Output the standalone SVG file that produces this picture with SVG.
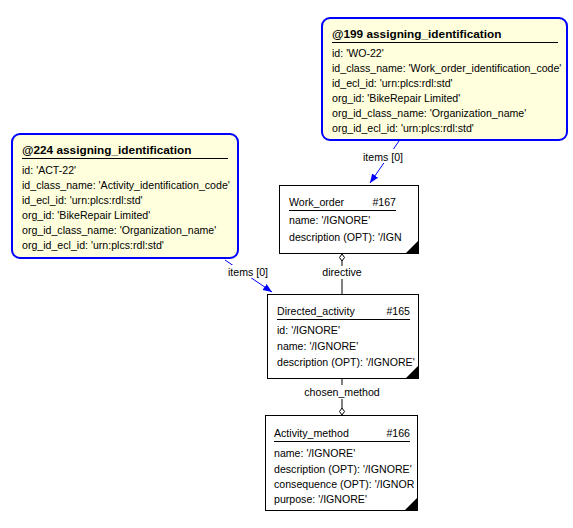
<svg xmlns="http://www.w3.org/2000/svg" width="573" height="528" viewBox="0 0 573 528">
<style>
text{font-family:"Liberation Sans",Arial,sans-serif;font-size:10.6px;fill:#000}
.t{font-weight:bold;font-size:11.8px}
.ai{fill:#ffffdd;stroke:#0000ff;stroke-width:2}
.en{fill:#fff;stroke:#000;stroke-width:1}
.ul{stroke:#000;stroke-width:1}
.bl{stroke:#0000ff;stroke-width:1;fill:none}
.ln{stroke:#000;stroke-width:1;fill:none}
.lbl{text-anchor:middle}
</style>
<defs>
<marker id="arr" viewBox="0 0 10 10" refX="10" refY="5" markerWidth="9" markerHeight="9" orient="auto" markerUnits="userSpaceOnUse">
<path d="M0,1 L10,5 L0,9 z" fill="#0000ff"/>
</marker>
</defs>
<rect width="573" height="528" fill="#fff"/>
<g id="connectors">
<line class="bl" x1="399" y1="141" x2="370" y2="183" marker-end="url(#arr)"/>
<rect x="362" y="149" width="43" height="14" fill="#fff"/>
<text class="lbl" x="383" y="161">items [0]</text>
<line class="bl" x1="225" y1="260" x2="272" y2="292" marker-end="url(#arr)"/>
<rect x="227" y="265" width="43" height="13" fill="#fff"/>
<text class="lbl" x="248" y="276">items [0]</text>
<line class="ln" x1="342" y1="261" x2="342" y2="266"/>
<path class="ln" d="M342,254 L344.5,257.5 L342,261 L339.5,257.5 Z" fill="#fff"/>
<text class="lbl" x="342" y="276">directive</text>
<line class="ln" x1="342" y1="279" x2="342" y2="294"/>
<line class="ln" x1="342" y1="378" x2="342" y2="385"/>
<text class="lbl" x="342" y="396">chosen_method</text>
<line class="ln" x1="342" y1="399" x2="342" y2="408"/>
<path class="ln" d="M342,408 L344.5,411.5 L342,415 L339.5,411.5 Z" fill="#fff"/>
</g>
<g id="n199">
<rect class="ai" x="322" y="18" width="245" height="122" rx="8"/>
<text class="t" x="332" y="38">@199 assigning_identification</text>
<line class="ul" x1="332" y1="42.5" x2="558" y2="42.5"/>
<text x="332" y="57">id: 'WO-22'</text>
<text x="332" y="72">id_class_name: 'Work_order_identification_code'</text>
<text x="332" y="87">id_ecl_id: 'urn:plcs:rdl:std'</text>
<text x="332" y="102">org_id: 'BikeRepair Limited'</text>
<text x="332" y="117">org_id_class_name: 'Organization_name'</text>
<text x="332" y="132">org_id_ecl_id: 'urn:plcs:rdl:std'</text>
</g>
<g id="n224">
<rect class="ai" x="12" y="134" width="226" height="124" rx="8"/>
<text class="t" x="22" y="154">@224 assigning_identification</text>
<line class="ul" x1="22" y1="158.5" x2="228" y2="158.5"/>
<text x="22" y="174">id: 'ACT-22'</text>
<text x="22" y="189">id_class_name: 'Activity_identification_code'</text>
<text x="22" y="204">id_ecl_id: 'urn:plcs:rdl:std'</text>
<text x="22" y="219">org_id: 'BikeRepair Limited'</text>
<text x="22" y="234">org_id_class_name: 'Organization_name'</text>
<text x="22" y="249">org_id_ecl_id: 'urn:plcs:rdl:std'</text>
</g>
<g id="n167">
<rect class="en" x="279.5" y="185.5" width="139" height="68"/>
<text x="289" y="206">Work_order</text>
<text x="396" y="206" text-anchor="end">#167</text>
<line class="ul" x1="289" y1="210.5" x2="396" y2="210.5"/>
<text x="289" y="224">name: '/IGNORE'</text>
<text x="289" y="241">description (OPT): '/IGN</text>
<path d="M419,240 L419,254 L405,254 Z" fill="#000"/>
</g>
<g id="n165">
<rect class="en" x="267.5" y="294.5" width="151" height="84"/>
<text x="277" y="315">Directed_activity</text>
<text x="410" y="315" text-anchor="end">#165</text>
<line class="ul" x1="277" y1="319.5" x2="410" y2="319.5"/>
<text x="277" y="334">id: '/IGNORE'</text>
<text x="277" y="350">name: '/IGNORE'</text>
<text x="277" y="366">description (OPT): '/IGNORE'</text>
<path d="M419,365 L419,379 L405,379 Z" fill="#000"/>
</g>
<g id="n166">
<rect class="en" x="265.5" y="415.5" width="152" height="95"/>
<text x="274" y="437">Activity_method</text>
<text x="410" y="437" text-anchor="end">#166</text>
<line class="ul" x1="274" y1="441.5" x2="410" y2="441.5"/>
<text x="274" y="457">name: '/IGNORE'</text>
<text x="274" y="473">description (OPT): '/IGNORE'</text>
<text x="274" y="488">consequence (OPT): '/IGNOR</text>
<text x="274" y="503">purpose: '/IGNORE'</text>
<path d="M418,497 L418,511 L404,511 Z" fill="#000"/>
</g>
</svg>
